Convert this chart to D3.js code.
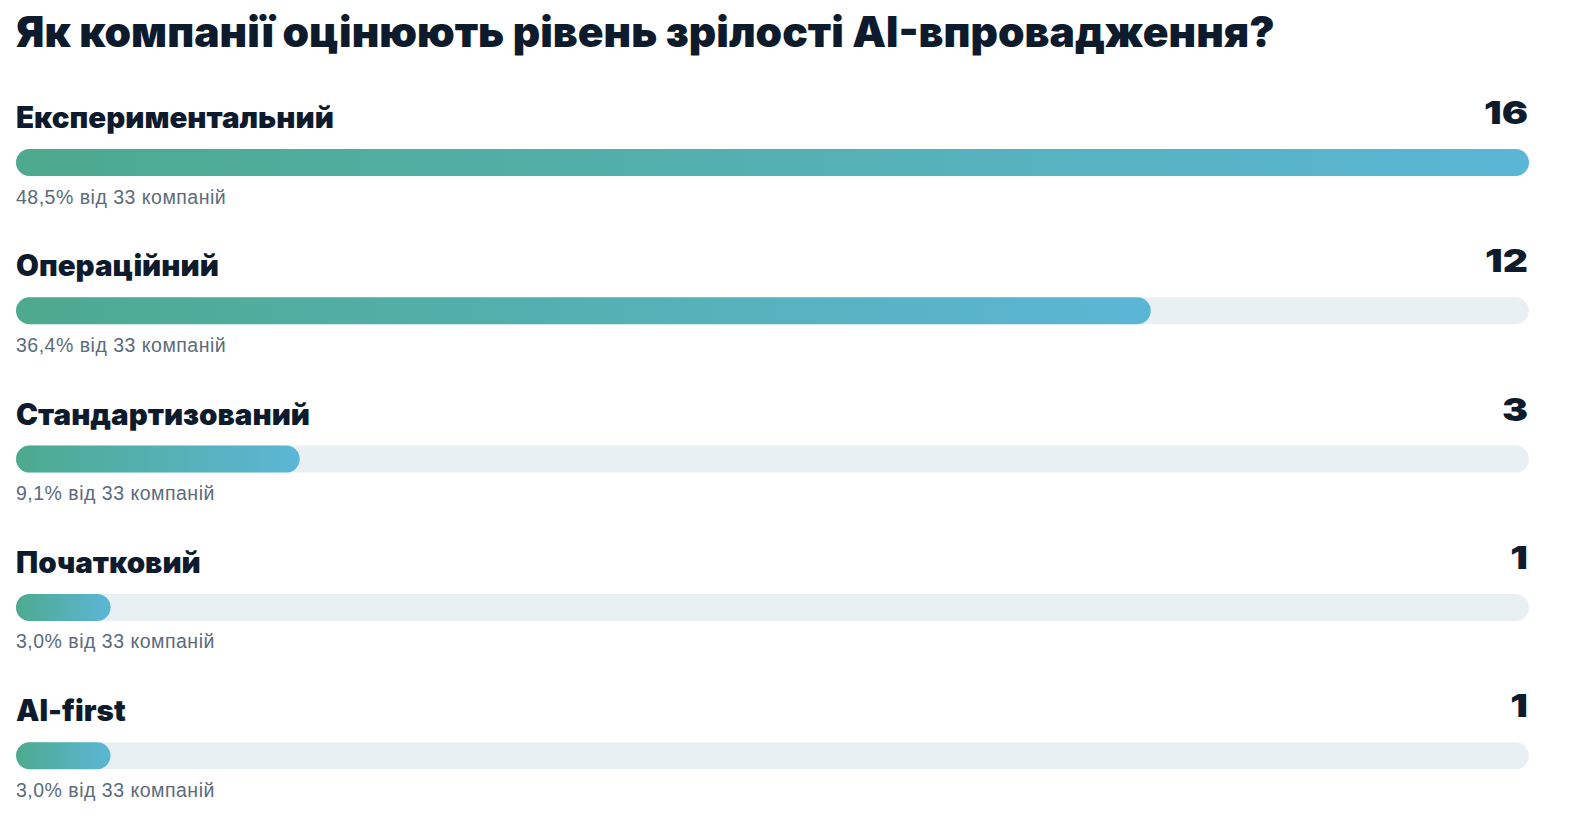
<!DOCTYPE html>
<html><head><meta charset="utf-8">
<script src="https://cdn.jsdelivr.net/npm/d3@7"></script>
<style>
html,body{margin:0;padding:0;background:#fff;}
svg{display:block;}
text{font-family:Inter,"Liberation Sans",Arial,sans-serif;}
</style></head>
<body>
<svg id="chart" width="1570" height="827"></svg>
<script>
const title = "Як компанії оцінюють рівень зрілості AI-впровадження?";
const categories = ["Експериментальний","Операційний","Стандартизований","Початковий","AI-first"];
const values = [16, 12, 3, 1, 1];
const totalCompanies = 33;
const suffix = "від 33 компаній";

const svg = d3.select("#chart");
const defs = svg.append("defs");
const grad = defs.append("linearGradient").attr("id","barGrad")
  .attr("x1","0%").attr("x2","100%").attr("y1","0%").attr("y2","0%");
grad.append("stop").attr("offset","0%").attr("stop-color","#4daa8e");
grad.append("stop").attr("offset","100%").attr("stop-color","#5bb6d6");

const x0 = 16, x1 = 1529;
const x = d3.scaleLinear().domain([0, d3.max(values)]).range([x0, x1]);
const row = d3.scaleBand().domain(categories).range([101, 101 + categories.length*148.3]).padding(0);
const barH = 27;

svg.append("text").attr("x", 16).attr("y", 47)
  .attr("font-size", 40).attr("font-weight", 900).attr("fill", "#0e1b2c")
  .attr("id","title")
  .text(title);

const fmt = v => (Math.round(v/totalCompanies*1000)/10).toFixed(1).replace(".", ",") + "% " + suffix;

const g = svg.selectAll("g.row").data(categories.map((c,i)=>({c, v: values[i]})))
  .enter().append("g").attr("class","row")
  .attr("transform", d => `translate(0,${row(d.c)})`);

g.append("text").attr("class","lab").attr("x", x0).attr("y", 27)
  .attr("font-size", 24).attr("font-weight", 900).attr("fill", "#0e1b2c")
  .text(d => d.c);

g.append("text").attr("transform", `translate(${x1 - 1},23) scale(1.22,1)`).attr("text-anchor","end")
  .attr("font-size", 32).attr("font-weight", 900).attr("fill", "#0e1b2c")
  .text(d => d.v);

g.append("rect").attr("x", x0).attr("y", 48).attr("width", x(d3.max(values)) - x0).attr("height", barH)
  .attr("rx", barH/2).attr("fill", "#e9f0f3");

g.append("rect").attr("x", x0).attr("y", 48).attr("width", d => x(d.v) - x0).attr("height", barH)
  .attr("rx", barH/2).attr("fill", "url(#barGrad)");

g.append("text").attr("x", x0).attr("y", 102.5)
  .attr("font-size", 19.5).attr("fill", "#5b6b7c")
  .attr("letter-spacing", 0.5)
  .style("font-family", "'Liberation Sans', Arial, sans-serif")
  .text(d => fmt(d.v));

// fit heavy text widths to reference measurements
const t = d3.select("#title").node();
const tw = t.getComputedTextLength();
if (tw > 0) d3.select("#title").attr("font-size", 40 * 1259 / tw);
const l = svg.select("text.lab").node();
const lw = l.getComputedTextLength();
if (lw > 0) svg.selectAll("text.lab").attr("font-size", 24 * 318 / lw);
</script>
</body></html>
